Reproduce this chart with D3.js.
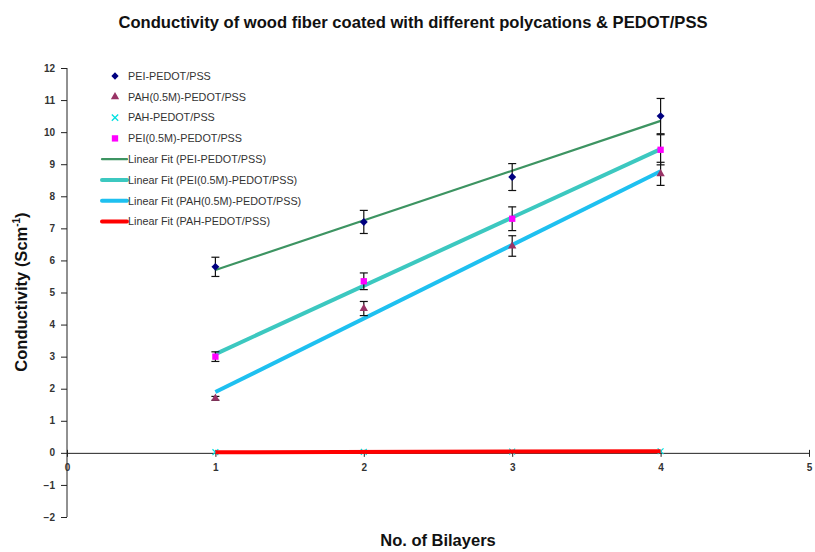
<!DOCTYPE html>
<html><head><meta charset="utf-8">
<script src="https://cdn.jsdelivr.net/npm/d3@7"></script>
<style>body{margin:0;background:#fff;} svg{display:block;}</style>
</head><body>
<svg id="c" width="815" height="552"></svg>
<script>
const bilayers = [1, 2, 3, 4];
const peiVals = [5.8, 7.2, 8.6, 10.5];
const peiErr = [0.3, 0.36, 0.42, 0.55];
const pah05Vals = [1.7, 4.5, 6.45, 8.7];
const pah05Err = [0.06, 0.22, 0.32, 0.36];
const pahVals = [0.02, 0.03, 0.04, 0.05];
const pei05Vals = [3.0, 5.35, 7.3, 9.45];
const pei05Err = [0.15, 0.26, 0.37, 0.47];
const xTicks = [0, 1, 2, 3, 4, 5];
const yTicks = [-2, -1, 0, 1, 2, 3, 4, 5, 6, 7, 8, 9, 10, 11, 12];

const svg = d3.select("#c");
const x = d3.scaleLinear().domain([0, 5]).range([67, 809]);
const y = d3.scaleLinear().domain([-2, 12]).range([517, 68]);
const font = "Arial, 'Liberation Sans', sans-serif";

// title
svg.append("text").attr("x", 413).attr("y", 28).attr("text-anchor", "middle")
  .attr("font-family", font).attr("font-weight", "bold").attr("font-size", 16.6)
  .attr("fill", "#111").text("Conductivity of wood fiber coated with different polycations & PEDOT/PSS");

// y axis
const yAxis = svg.append("g").attr("transform", `translate(${x(0)},0)`)
  .call(d3.axisLeft(y).tickValues(yTicks).tickSize(6).tickPadding(6).tickFormat(d3.format("d")));
yAxis.select(".domain").attr("stroke", "#222").attr("d", `M0,${y(12)}H0V${y(-2)}`);
yAxis.selectAll(".tick line").attr("stroke", "#222");
yAxis.selectAll(".tick text").attr("font-family", font).attr("font-size", 10).attr("font-weight", "bold").attr("fill", "#333");
yAxis.selectAll(".tick").filter(d => d === 0).select("text").remove();

// x axis at y=0
const xAxis = svg.append("g").attr("transform", `translate(0,${y(0)})`)
  .call(d3.axisBottom(x).tickValues(xTicks).tickSize(0).tickPadding(11).tickFormat(d3.format("d")));
xAxis.select(".domain").attr("stroke", "#222");
xAxis.selectAll(".tick line").attr("stroke", "#222").attr("y1", -3).attr("y2", 4);
xAxis.selectAll(".tick text").attr("font-family", font).attr("font-size", 10).attr("font-weight", "bold").attr("fill", "#333");
svg.append("text").attr("x", x(0) - 12).attr("y", y(0)).attr("dy", "0.32em").attr("text-anchor", "end")
  .attr("font-family", font).attr("font-size", 10).attr("font-weight", "bold").attr("fill", "#333").text("0");

// axis titles
svg.append("text").attr("transform", `translate(27,292) rotate(-90)`).attr("text-anchor", "middle")
  .attr("font-family", font).attr("font-weight", "bold").attr("font-size", 16.5).attr("fill", "#111")
  .call(t => { t.append("tspan").text("Conductivity (Scm"); t.append("tspan").attr("dy", -7).attr("font-size", 10).text("-1"); t.append("tspan").attr("dy", 7).text(")"); });
svg.append("text").attr("x", 438).attr("y", 546).attr("text-anchor", "middle")
  .attr("font-family", font).attr("font-weight", "bold").attr("font-size", 16.5).attr("fill", "#111").text("No. of Bilayers");

// linear fits (least squares)
function fit(vals) {
  const mx = d3.mean(bilayers), my = d3.mean(vals);
  let num = 0, den = 0;
  bilayers.forEach((b, i) => { num += (b - mx) * (vals[i] - my); den += (b - mx) ** 2; });
  const m = num / den, c = my - m * mx;
  return [[1, m + c], [4, 4 * m + c]];
}
const sym = (type, size) => d3.symbol().type(type).size(size)();
function markers(vals, type, size, color, stroke) {
  bilayers.forEach((b, i) => {
    const p = svg.append("path").attr("d", sym(type, size)).attr("transform", `translate(${x(b)},${y(vals[i])})`);
    if (stroke) p.attr("fill", "none").attr("stroke", color).attr("stroke-width", 1.2);
    else p.attr("fill", color);
  });
}
// PAH markers sit under the red fit line
markers(pahVals, d3.symbolX, 24, "#00e0e0", true);

const line = d3.line().x(d => x(d[0])).y(d => y(d[1]));
const fits = [
  {vals: peiVals, color: "#3d9462", w: 2.2},
  {vals: pei05Vals, color: "#3cc8c0", w: 4},
  {vals: pah05Vals, color: "#1ec0f0", w: 4},
  {vals: pahVals, color: "#ff0000", w: 4}
];
fits.forEach(f => svg.append("path").attr("d", line(fit(f.vals))).attr("fill", "none")
  .attr("stroke", f.color).attr("stroke-width", f.w));

// error bars
function errBars(vals, errs) {
  const g = svg.append("g").attr("stroke", "#111").attr("stroke-width", 1.2);
  bilayers.forEach((b, i) => {
    const cx = x(b), t = y(vals[i] + errs[i]), bt = y(vals[i] - errs[i]);
    g.append("line").attr("x1", cx).attr("x2", cx).attr("y1", t).attr("y2", bt);
    g.append("line").attr("x1", cx - 4).attr("x2", cx + 4).attr("y1", t).attr("y2", t);
    g.append("line").attr("x1", cx - 4).attr("x2", cx + 4).attr("y1", bt).attr("y2", bt);
  });
}
errBars(peiVals, peiErr);
errBars(pei05Vals, pei05Err);
errBars(pah05Vals, pah05Err);

markers(peiVals, d3.symbolDiamond2, 40, "#000080");
markers(pah05Vals, d3.symbolTriangle, 30, "#993366");
markers(pei05Vals, d3.symbolSquare, 40, "#ff00ff");

// legend
const legend = [
  {label: "PEI-PEDOT/PSS", sym: d3.symbolDiamond2, size: 34, color: "#000080"},
  {label: "PAH(0.5M)-PEDOT/PSS", sym: d3.symbolTriangle, size: 30, color: "#993366"},
  {label: "PAH-PEDOT/PSS", sym: d3.symbolX, size: 28, color: "#00e0e0", stroke: true},
  {label: "PEI(0.5M)-PEDOT/PSS", sym: d3.symbolSquare, size: 40, color: "#ff00ff"},
  {label: "Linear Fit (PEI-PEDOT/PSS)", line: "#3d9462", w: 2.2},
  {label: "Linear Fit (PEI(0.5M)-PEDOT/PSS)", line: "#3cc8c0", w: 4},
  {label: "Linear Fit (PAH(0.5M)-PEDOT/PSS)", line: "#1ec0f0", w: 4},
  {label: "Linear Fit (PAH-PEDOT/PSS)", line: "#ff0000", w: 4}
];
const lg = svg.append("g");
legend.forEach((d, i) => {
  const yy = 76 + i * 20.8;
  if (d.line) {
    lg.append("line").attr("x1", 102).attr("x2", 127).attr("y1", yy).attr("y2", yy)
      .attr("stroke", d.line).attr("stroke-width", d.w).attr("stroke-linecap", "round");
  } else {
    const p = lg.append("path").attr("d", sym(d.sym, d.size)).attr("transform", `translate(115,${yy})`);
    if (d.stroke) p.attr("fill", "none").attr("stroke", d.color).attr("stroke-width", 1.3);
    else p.attr("fill", d.color);
  }
  lg.append("text").attr("x", 128).attr("y", yy).attr("dy", "0.35em")
    .attr("font-family", font).attr("font-size", 10.8).attr("fill", "#333").text(d.label);
});
</script>
</body></html>
